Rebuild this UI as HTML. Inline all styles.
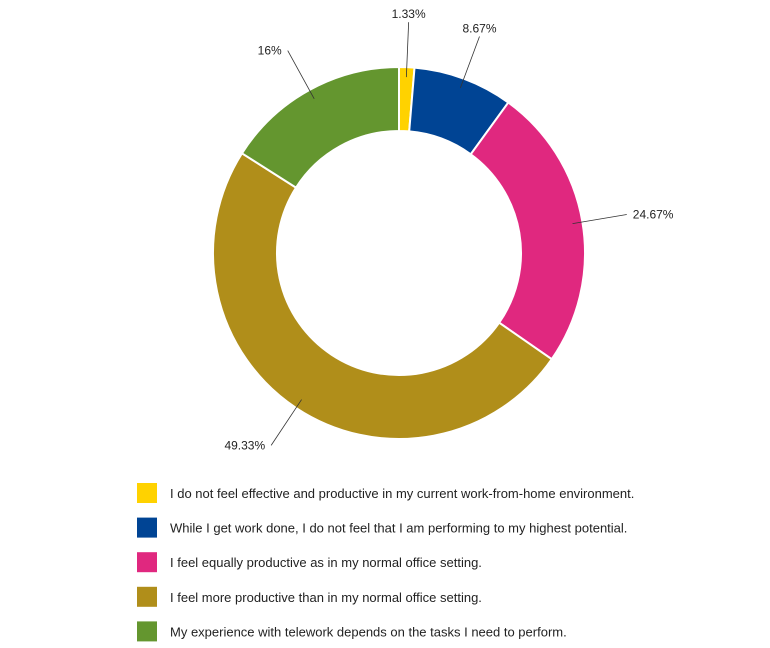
<!DOCTYPE html>
<html><head><meta charset="utf-8"><style>
body{margin:0;background:#fff;font-family:"Liberation Sans",sans-serif;}
svg{display:block}
</style></head><body>
<svg width="770" height="648">
<g id="slices"></g><g id="labels"></g><g id="legend"></g>
</svg>
<script>
const categories=["I do not feel effective and productive in my current work-from-home environment.","While I get work done, I do not feel that I am performing to my highest potential.","I feel equally productive as in my normal office setting.","I feel more productive than in my normal office setting.","My experience with telework depends on the tasks I need to perform."];
const values=[1.33,8.67,24.67,49.33,16];
const valueLabels=["1.33%","8.67%","24.67%","49.33%","16%"];
const colors=["#FFD200","#004494","#E0287F","#B08E1A","#64962F"];
const ns="http://www.w3.org/2000/svg";
const cx=399,cy=253,R=186,r=122;
const total=values.reduce((a,b)=>a+b,0);
function pt(a,rad){return [cx+rad*Math.sin(a),cy-rad*Math.cos(a)];}
let acc=0;
const gS=document.getElementById('slices'),gL=document.getElementById('labels'),gG=document.getElementById('legend');
values.forEach((v,i)=>{
 const a0=acc/total*2*Math.PI;acc+=v;const a1=acc/total*2*Math.PI;
 const large=(a1-a0)>Math.PI?1:0;
 const p0=pt(a0,R),p1=pt(a1,R),q1=pt(a1,r),q0=pt(a0,r);
 const p=document.createElementNS(ns,'path');
 p.setAttribute('d',`M${p0}A${R},${R} 0 ${large} 1 ${p1}L${q1}A${r},${r} 0 ${large} 0 ${q0}Z`);
 p.setAttribute('fill',colors[i]);p.setAttribute('stroke','#fff');p.setAttribute('stroke-width','2');
 
 
 gS.appendChild(p);
 const am=(a0+a1)/2;
 const s=pt(am,R-10),e=pt(am,R+45);
 let lx=e[0],ly=e[1];
 const ln=document.createElementNS(ns,'line');
 ln.setAttribute('x1',s[0]);ln.setAttribute('y1',s[1]);ln.setAttribute('x2',lx);ln.setAttribute('y2',ly);
 ln.setAttribute('stroke','#333');ln.setAttribute('stroke-width','0.8');
 
 
 gL.appendChild(ln);
 const t=document.createElementNS(ns,'text');
 const right=Math.sin(am)>=0;
 const top=Math.cos(am)>0.9;
 t.setAttribute('x',top?lx:(right?lx+6:lx-6));
 t.setAttribute('y',top?ly-4:ly+4);
 t.setAttribute('text-anchor',top?'middle':(right?'start':'end'));
 t.setAttribute('font-size','12');t.setAttribute('fill','#222');
 t.textContent=valueLabels[i];
 
 
 gL.appendChild(t);
 const y=483+i*34.6;
 const rc=document.createElementNS(ns,'rect');
 rc.setAttribute('x',137);rc.setAttribute('y',y);rc.setAttribute('width',20);rc.setAttribute('height',20);rc.setAttribute('fill',colors[i]);
 
 
 gG.appendChild(rc);
 const lt=document.createElementNS(ns,'text');
 lt.setAttribute('x',170);lt.setAttribute('y',y+15);lt.setAttribute('font-size','13');lt.setAttribute('fill','#222');
 lt.textContent=categories[i];
 
 
 gG.appendChild(lt);
});
</script>
</body></html>
